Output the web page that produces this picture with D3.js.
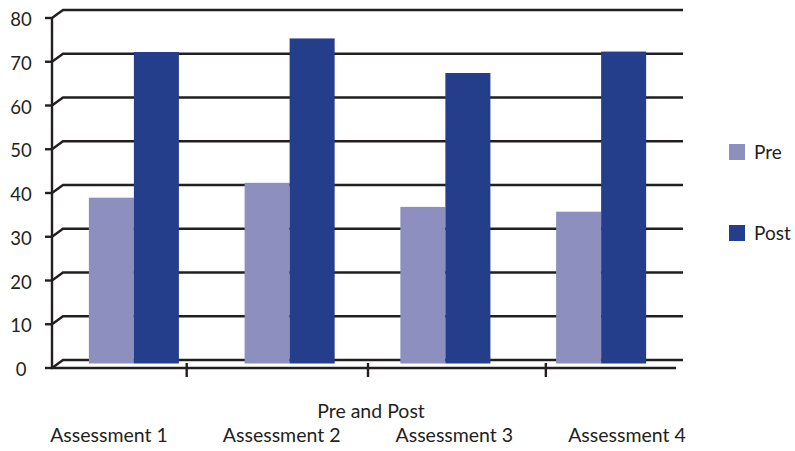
<!DOCTYPE html>
<html>
<head>
<meta charset="utf-8">
<script src="https://cdn.jsdelivr.net/npm/d3@7"></script>
<style>
  html, body { margin: 0; padding: 0; background: #fff; }
  svg { display: block; font-family: Lato, "Open Sans", sans-serif; }
</style>
</head>
<body>
<svg id="chart" width="795" height="451"></svg>
<script>
const categories = ["Assessment 1", "Assessment 2", "Assessment 3", "Assessment 4"];
const seriesNames = ["Pre", "Post"];
const preValues = [37.9, 41.3, 35.8, 34.7];
const postValues = [71.2, 74.3, 66.4, 71.3];
const yTicks = [0, 10, 20, 30, 40, 50, 60, 70, 80];
const axisTitle = "Pre and Post";
const colors = { Pre: "#8d8fbf", Post: "#243e8c" };

const svg = d3.select("#chart");
const ink = "#231f20";

// front plane geometry
const y = d3.scaleLinear().domain([0, 80]).range([368, 18]);
const frontX0 = 52, frontX1 = 676;
const backDX = 11, backDY = -8;
const backX1 = 683;
const midDX = 5.5, midDY = -4.5;

// back-wall gridlines with diagonal connectors
const grid = svg.append("g");
yTicks.forEach(t => {
  const yy = y(t);
  grid.append("path")
    .attr("d", `M${frontX0},${yy} L${frontX0 + backDX},${yy + backDY} L${backX1},${yy + backDY}`)
    .attr("fill", "none").attr("stroke", ink).attr("stroke-width", 2.4);
});

// bars (mid depth)
const x0 = d3.scaleBand().domain(categories).range([frontX0 + 4, frontX1 + 3]).paddingInner(0).paddingOuter(0);
const x1 = d3.scaleBand().domain(seriesNames).range([0, x0.bandwidth()]).paddingInner(0).paddingOuter(0.73);
const yMid = v => y(v) + midDY;

const data = categories.map((c, i) => ({ cat: c, values: [
  { name: "Pre", value: preValues[i] },
  { name: "Post", value: postValues[i] }
]}));

const groups = svg.append("g").selectAll("g").data(data).join("g")
  .attr("transform", d => `translate(${x0(d.cat)},0)`);
groups.selectAll("rect").data(d => d.values).join("rect")
  .attr("x", d => x1(d.name))
  .attr("y", d => yMid(d.value))
  .attr("width", x1.bandwidth())
  .attr("height", d => yMid(0) - yMid(d.value))
  .attr("fill", d => colors[d.name]);

// y axis line and ticks
const ax = svg.append("g");
ax.append("line").attr("x1", frontX0).attr("x2", frontX0).attr("y1", y(80) - 1).attr("y2", y(0) + 1)
  .attr("stroke", ink).attr("stroke-width", 2.4);
yTicks.forEach(t => {
  ax.append("line").attr("x1", frontX0 - 7).attr("x2", frontX0).attr("y1", y(t)).attr("y2", y(t))
    .attr("stroke", ink).attr("stroke-width", 2.4);
  ax.append("text").attr("x", 21).attr("y", y(t) + 1).attr("text-anchor", "middle")
    .attr("dominant-baseline", "central").attr("font-size", 18.5).attr("fill", ink).text(t);
});

// front baseline
ax.append("line").attr("x1", frontX0 - 1).attr("x2", frontX1).attr("y1", y(0)).attr("y2", y(0))
  .attr("stroke", ink).attr("stroke-width", 2.4);

// category labels (spread wider than the plot) and ticks between them
const labelX = d3.scalePoint().domain(categories).range([109, 627]);
const labelIdx = d3.scaleLinear().domain([0, categories.length - 1]).range([109, 627]);
[0.45, 1.5, 2.53].forEach(p => {
  ax.append("line").attr("x1", labelIdx(p)).attr("x2", labelIdx(p)).attr("y1", y(0) - 5).attr("y2", y(0) + 9)
    .attr("stroke", ink).attr("stroke-width", 2.4);
});
categories.forEach(c => {
  ax.append("text").attr("x", labelX(c)).attr("y", 442).attr("text-anchor", "middle")
    .attr("font-size", 19.5).attr("fill", ink).text(c);
});
ax.append("text").attr("x", 371).attr("y", 418).attr("text-anchor", "middle")
  .attr("font-size", 19.5).attr("fill", ink).text(axisTitle);

// legend
const legend = svg.append("g");
seriesNames.forEach((s, i) => {
  const ly = 144 + i * 81;
  legend.append("rect").attr("x", 729).attr("y", ly).attr("width", 16).attr("height", 16).attr("fill", colors[s]);
  legend.append("text").attr("x", 754).attr("y", ly + 14.5).attr("font-size", 19).attr("fill", ink).text(s);
});
</script>
</body>
</html>
